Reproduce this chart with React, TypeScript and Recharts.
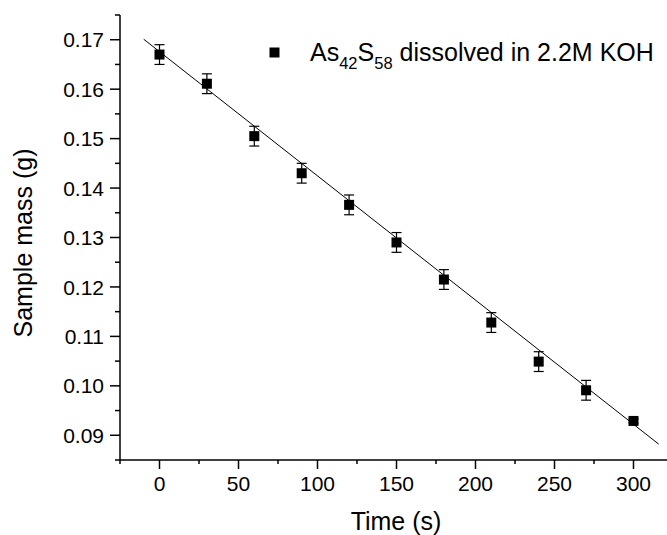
import React from "react";
import { ComposedChart, Scatter, Line, XAxis, YAxis, ErrorBar } from "recharts";

const times = [0, 30, 60, 90, 120, 150, 180, 210, 240, 270, 300];
const masses = [0.167, 0.1611, 0.1505, 0.143, 0.1366, 0.129, 0.1215, 0.1128, 0.1049, 0.0991, 0.0929];
const errors = [0.002, 0.002, 0.002, 0.002, 0.002, 0.002, 0.002, 0.002, 0.002, 0.002, 0.0004];

// linear fit drawn through the points
const fitTimes = [-10, 316];
const fitMasses = [0.1701, 0.0882];

const xTicks = [-25, 0, 25, 50, 75, 100, 125, 150, 175, 200, 225, 250, 275, 300, 325];
const yTicks = [
  0.085, 0.09, 0.095, 0.1, 0.105, 0.11, 0.115, 0.12, 0.125, 0.13, 0.135, 0.14, 0.145, 0.15, 0.155, 0.16,
  0.165, 0.17, 0.175,
];

const FONT = "'Liberation Sans', Arial, Helvetica, sans-serif";

const points = times.map((t, i) => ({ t, m: masses[i], err: errors[i] }));
const fit = fitTimes.map((t, i) => ({ t, m: fitMasses[i] }));

const isMajorX = (v: number) => v >= 0 && v <= 300 && v % 50 === 0;
const isMajorY = (v: number) => {
  const k = Math.round(v * 1000);
  return k % 10 === 0 && k >= 90 && k <= 170;
};

function BottomTick(props: any) {
  const { x, y, payload } = props;
  const v = payload.value;
  const major = isMajorX(v);
  return (
    <g>
      <line x1={x} y1={y} x2={x} y2={y + (major ? 9 : 4)} stroke="#000" strokeWidth={1.5} />
      {major && (
        <text x={x} y={y + 31} textAnchor="middle" fontSize={21} fontFamily={FONT} fill="#000">
          {v}
        </text>
      )}
    </g>
  );
}

function TopTick(props: any) {
  const { x, y } = props;
  return <line x1={x} y1={y} x2={x} y2={y - 3} stroke="#000" strokeWidth={1.5} />;
}

function LeftTick(props: any) {
  const { x, y, payload } = props;
  const v = payload.value;
  const major = isMajorY(v);
  return (
    <g>
      <line x1={x - (major ? 10 : 5)} y1={y} x2={x} y2={y} stroke="#000" strokeWidth={1.5} />
      {major && (
        <text x={x - 16} y={y} dy="0.36em" textAnchor="end" fontSize={21} fontFamily={FONT} fill="#000">
          {v.toFixed(2)}
        </text>
      )}
    </g>
  );
}

const SquareDot = (props: any) => {
  const { cx, cy } = props;
  if (cx == null || cy == null) return null;
  return <rect x={cx - 5} y={cy - 5} width={10} height={10} fill="#000" />;
};

export default function App() {
  return (
    <div style={{ position: "absolute", left: 0, top: 0, width: 667, height: 535, overflow: "hidden", background: "#fff" }}>
      <ComposedChart width={673} height={535} margin={{ top: 15, right: 0, bottom: 0, left: 0 }}>
        <XAxis
          dataKey="t"
          type="number"
          domain={[-25, 325]}
          ticks={xTicks}
          interval={0}
          height={75}
          tickSize={0}
          tickMargin={0}
          tick={<BottomTick />}
          axisLine={{ stroke: "#000", strokeWidth: 1.5 }}
          allowDataOverflow
        />
        <XAxis
          xAxisId="top"
          orientation="top"
          type="number"
          domain={[-25, 325]}
          ticks={xTicks}
          interval={0}
          height={0}
          tickSize={0}
          tickMargin={0}
          tick={<TopTick />}
          axisLine={{ stroke: "#000", strokeWidth: 1.5 }}
        />
        <YAxis
          dataKey="m"
          type="number"
          domain={[0.085, 0.175]}
          ticks={yTicks}
          interval={0}
          width={120}
          tickSize={0}
          tickMargin={0}
          tick={<LeftTick />}
          axisLine={{ stroke: "#000", strokeWidth: 1.5 }}
          allowDataOverflow
        />
        <Line
          data={fit}
          dataKey="m"
          stroke="#000"
          strokeWidth={1}
          dot={false}
          activeDot={false}
          isAnimationActive={false}
        />
        <Scatter data={points} dataKey="m" shape={<SquareDot />} isAnimationActive={false}>
          <ErrorBar dataKey="err" direction="y" width={5} stroke="#000" strokeWidth={1.2} />
        </Scatter>
      </ComposedChart>
      <svg
        width={667}
        height={535}
        style={{ position: "absolute", left: 0, top: 0, pointerEvents: "none" }}
        fontFamily={FONT}
      >
        <rect x={269.5} y={47.5} width={10} height={10} fill="#000" />
        <text x={310} y={60.7} fontSize={25} fill="#000">
          As
          <tspan fontSize={16.5} dy={8.6}>42</tspan>
          <tspan dy={-8.6}>S</tspan>
          <tspan fontSize={16.5} dy={8.6}>58</tspan>
          <tspan dy={-8.6}> dissolved in 2.2M KOH</tspan>
        </text>
        <text x={396} y={530} textAnchor="middle" fontSize={25} fill="#000">
          Time (s)
        </text>
        <text transform="translate(32,243) rotate(-90)" textAnchor="middle" fontSize={25} fill="#000">
          Sample mass (g)
        </text>
      </svg>
    </div>
  );
}
